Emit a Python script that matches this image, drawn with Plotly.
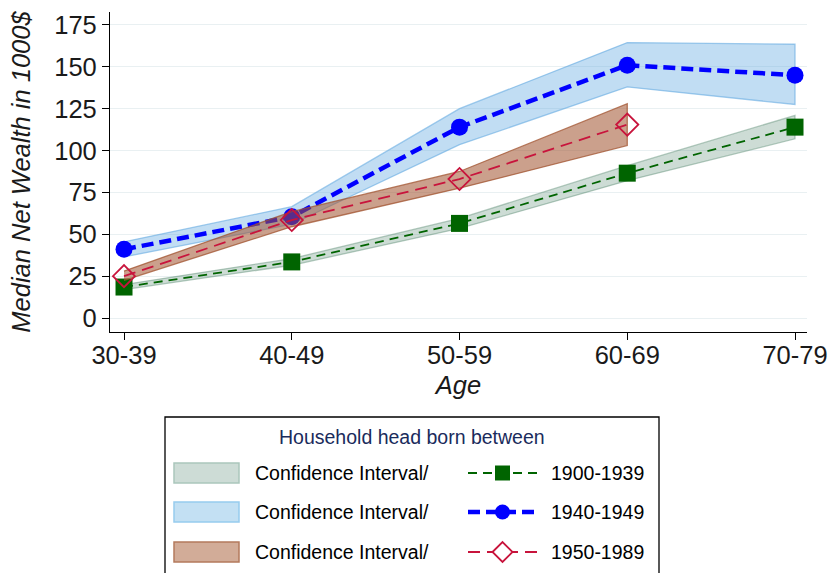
import plotly.graph_objects as go

# ---------------- data ----------------
age_groups = ["30-39", "40-49", "50-59", "60-69", "70-79"]

c1900_median = [18.5, 33.5, 56.5, 86.5, 114]
c1900_upper = [20, 35.5, 59.5, 91, 121]
c1900_lower = [17, 31.5, 53.5, 82, 107]

c1940_median = [41, 60.5, 114, 151, 145]
c1940_upper = [45.5, 66.5, 125, 164.5, 163.5]
c1940_lower = [36.5, 56, 103.5, 138, 127.5]

c1950_median = [25, 58.5, 83, 115.5]
c1950_upper = [28, 63.5, 87.5, 128]
c1950_lower = [22.5, 54.5, 77.5, 103]

cohort_labels = ["1900-1939", "1940-1949", "1950-1989"]
ci_label = "Confidence Interval/"
legend_title = "Household head born between"

# ---------------- styles ----------------
W, H = 831, 573
ML, MR, MT, MB = 110, W - 807, 12, H - 332
PW, PH = W - ML - MR, H - MT - MB

FONT = "Liberation Sans, Arial, sans-serif"
green = "#006400"
blue = "#0000ff"
red = "#c8143c"
band_fill = ["rgba(90,140,115,0.30)", "rgba(100,170,225,0.40)", "rgba(160,82,45,0.55)"]
band_line = ["rgba(90,140,115,0.45)", "rgba(100,170,225,0.60)", "rgba(160,82,45,0.75)"]

fig = go.Figure()


def add_band(x, upper, lower, i):
    fig.add_trace(go.Scatter(
        x=list(x) + list(x)[::-1],
        y=list(upper) + list(lower)[::-1],
        fill="toself", fillcolor=band_fill[i],
        line=dict(color=band_line[i], width=1.3),
        mode="lines", hoverinfo="skip", showlegend=False,
    ))


# cohort 1900-1939
add_band(age_groups, c1900_upper, c1900_lower, 0)
fig.add_trace(go.Scatter(
    x=age_groups, y=c1900_median, mode="lines+markers", showlegend=False,
    line=dict(color=green, width=1.8, dash="9px,6px"),
    marker=dict(symbol="square", size=17, color=green, line=dict(width=0)),
))
# cohort 1940-1949
add_band(age_groups, c1940_upper, c1940_lower, 1)
fig.add_trace(go.Scatter(
    x=age_groups, y=c1940_median, mode="lines+markers", showlegend=False,
    line=dict(color=blue, width=4.5, dash="12px,6px"),
    marker=dict(symbol="circle", size=17, color=blue, line=dict(width=0)),
))
# cohort 1950-1989
x1950 = age_groups[:len(c1950_median)]
add_band(x1950, c1950_upper, c1950_lower, 2)
fig.add_trace(go.Scatter(
    x=x1950, y=c1950_median, mode="lines+markers", showlegend=False,
    line=dict(color=red, width=1.8, dash="12px,7px"),
    marker=dict(symbol="diamond-open", size=17, color=red, line=dict(width=1.8, color=red)),
))

# ---------------- legend (drawn in pixel layout space) ----------------
def px(x):
    return (x - ML) / PW


def py(y):
    return (MT + PH - y) / PH


shapes = []
annotations = []

# box (bottom is cut off by the page edge, as in the reference)
shapes.append(dict(type="rect", xref="paper", yref="paper",
                   x0=px(165), x1=px(659), y0=py(610), y1=py(417),
                   line=dict(color="#000000", width=1.3), fillcolor="rgba(0,0,0,0)"))
annotations.append(dict(xref="paper", yref="paper", x=px(412), y=py(437),
                        text=legend_title, showarrow=False, xanchor="center", yanchor="middle",
                        font=dict(family=FONT, size=19.5, color="#1a2b5c")))

row_y = [473, 512, 552]
swatch_fill = ["#cddcd6", "#c3e0f3", "#d2ac98"]
swatch_line = ["#abc6bc", "#97cbee", "#b47a5c"]
line_cols = [green, blue, red]
line_w = [1.8, 4.5, 1.8]
line_dash = ["9px,6px", "12px,6px", "12px,7px"]

for i, yc in enumerate(row_y):
    shapes.append(dict(type="rect", xref="paper", yref="paper",
                       x0=px(174), x1=px(239), y0=py(yc + 10), y1=py(yc - 10),
                       fillcolor=swatch_fill[i], line=dict(color=swatch_line[i], width=1.5)))
    annotations.append(dict(xref="paper", yref="paper", x=px(253), y=py(yc),
                            text=ci_label, showarrow=False, xanchor="left", yanchor="middle",
                            font=dict(family=FONT, size=19.5, color="#000000")))
    shapes.append(dict(type="line", xref="paper", yref="paper",
                       x0=px(468), x1=px(537), y0=py(yc), y1=py(yc),
                       line=dict(color=line_cols[i], width=line_w[i], dash=line_dash[i])))
    annotations.append(dict(xref="paper", yref="paper", x=px(549), y=py(yc),
                            text=cohort_labels[i], showarrow=False, xanchor="left", yanchor="middle",
                            font=dict(family=FONT, size=19.5, color="#000000")))

cx = 502.5
# square
shapes.append(dict(type="rect", xref="paper", yref="paper",
                   x0=px(cx - 7.5), x1=px(cx + 7.5), y0=py(row_y[0] + 7.5), y1=py(row_y[0] - 7.5),
                   fillcolor=green, line=dict(width=0)))
# circle
shapes.append(dict(type="circle", xref="paper", yref="paper",
                   x0=px(cx - 7.5), x1=px(cx + 7.5), y0=py(row_y[1] + 7.5), y1=py(row_y[1] - 7.5),
                   fillcolor=blue, line=dict(width=0)))
# open diamond
d = 10
yc = row_y[2]
path = "M{:.5f},{:.5f} L{:.5f},{:.5f} L{:.5f},{:.5f} L{:.5f},{:.5f} Z".format(
    px(cx - d), py(yc), px(cx), py(yc - d), px(cx + d), py(yc), px(cx), py(yc + d))
shapes.append(dict(type="path", xref="paper", yref="paper", path=path,
                   fillcolor="#ffffff", line=dict(color=red, width=1.8)))

# ---------------- layout ----------------
fig.update_layout(
    width=W, height=H,
    margin=dict(l=ML, r=MR, t=MT, b=MB),
    paper_bgcolor="#ffffff", plot_bgcolor="#ffffff",
    font=dict(family=FONT, color="#1a1a1a"),
    showlegend=False,
    shapes=shapes, annotations=annotations,
    xaxis=dict(
        type="category", categoryorder="array", categoryarray=age_groups,
        range=[-0.0835, 4.0715],
        showgrid=False, zeroline=False,
        showline=True, linecolor="#000000", linewidth=1.3,
        ticks="outside", ticklen=7, tickwidth=1.3, tickcolor="#000000",
        ticklabelstandoff=-7,
        tickfont=dict(family=FONT, size=25.5, color="#1a1a1a"),
        title=dict(text="Age", standoff=8,
                   font=dict(family=FONT, size=25.5, color="#1a1a1a", style="italic")),
        automargin=False,
    ),
    yaxis=dict(
        range=[-8.36, 182.76],
        tickvals=[0, 25, 50, 75, 100, 125, 150, 175],
        showgrid=True, gridcolor="#e9f0f2", gridwidth=1.2,
        zeroline=False,
        showline=True, linecolor="#000000", linewidth=1.3,
        ticks="outside", ticklen=7, tickwidth=1.3, tickcolor="#000000",
        tickfont=dict(family=FONT, size=25.5, color="#1a1a1a"),
        title=dict(text="Median Net Wealth in 1000$", standoff=16,
                   font=dict(family=FONT, size=25.5, color="#1a1a1a", style="italic")),
        automargin=False,
    ),
)

# remove the default page margin so the 831x573 figure fills the window exactly
fig.write_html(
    "out.html",
    config={"displayModeBar": False},
    post_script="document.body.style.margin='0';document.body.style.overflow='hidden';",
)
